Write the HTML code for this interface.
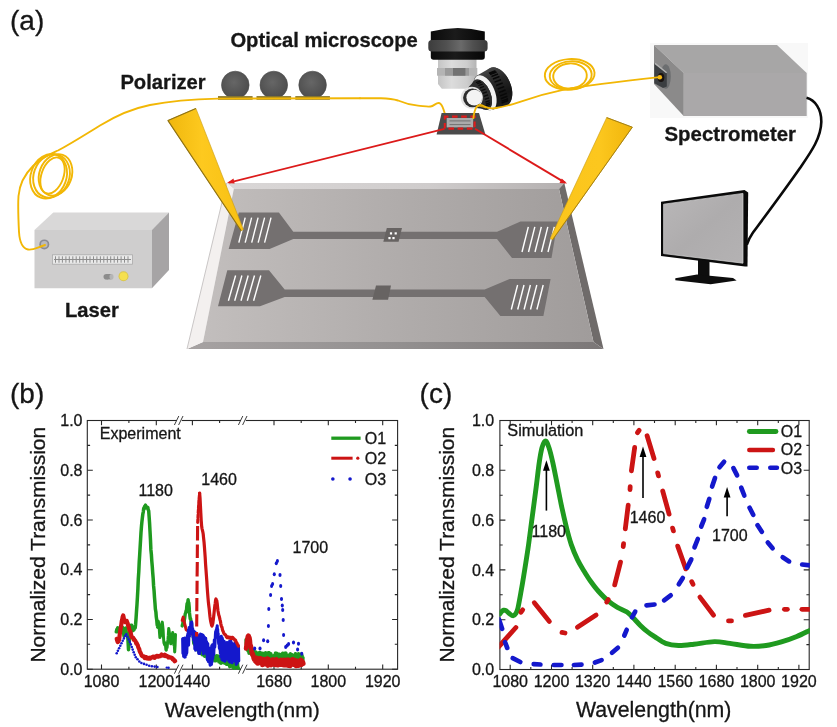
<!DOCTYPE html>
<html><head><meta charset="utf-8"><title>Figure</title>
<style>html,body{margin:0;padding:0;background:#fff}svg{display:block;will-change:transform}text{font-family:"Liberation Sans",sans-serif;fill:#161616;stroke:#161616;stroke-width:0.3px}</style>
</head><body>
<svg width="837" height="727" viewBox="0 0 837 727">
<defs>
<linearGradient id="gface" x1="0" y1="0" x2="1" y2="0"><stop offset="0" stop-color="#c2bebd"/><stop offset="0.5" stop-color="#b0acab"/><stop offset="1" stop-color="#a09c9b"/></linearGradient>
<linearGradient id="gbotb" x1="0" y1="0" x2="1" y2="0"><stop offset="0" stop-color="#a6a2a2"/><stop offset="0.5" stop-color="#939090"/><stop offset="1" stop-color="#7b7777"/></linearGradient>
<linearGradient id="gtopb" x1="0" y1="0" x2="1" y2="0"><stop offset="0" stop-color="#dad7d7"/><stop offset="0.6" stop-color="#cfcccc"/><stop offset="1" stop-color="#b4b0b0"/></linearGradient>
<linearGradient id="gtipL" x1="0" y1="0" x2="1" y2="0"><stop offset="0" stop-color="#f0b70d"/><stop offset="0.45" stop-color="#fdc91f"/><stop offset="1" stop-color="#f8c013"/></linearGradient>
<linearGradient id="gtipR" x1="0" y1="0" x2="1" y2="0"><stop offset="0" stop-color="#fbc51c"/><stop offset="0.6" stop-color="#fcc71e"/><stop offset="1" stop-color="#f0b50c"/></linearGradient>
<linearGradient id="gsilver" x1="0" y1="0" x2="1" y2="0"><stop offset="0" stop-color="#c4c4c4"/><stop offset="0.35" stop-color="#dcdcdc"/><stop offset="0.75" stop-color="#cdcdcd"/><stop offset="1" stop-color="#b4b4b4"/></linearGradient>
<linearGradient id="gblack" x1="0" y1="0" x2="1" y2="0"><stop offset="0" stop-color="#0a0a0a"/><stop offset="0.45" stop-color="#1b1b1b"/><stop offset="1" stop-color="#060606"/></linearGradient>
<linearGradient id="gring" x1="0" y1="0" x2="1" y2="0"><stop offset="0" stop-color="#3c3c3c"/><stop offset="0.3" stop-color="#505050"/><stop offset="0.55" stop-color="#6a6a6a"/><stop offset="0.75" stop-color="#505050"/><stop offset="1" stop-color="#3a3a3a"/></linearGradient>
<linearGradient id="gscreen" x1="0" y1="0" x2="1" y2="1"><stop offset="0" stop-color="#b9b7b8"/><stop offset="0.5" stop-color="#aeacad"/><stop offset="1" stop-color="#b4b2b3"/></linearGradient>
<linearGradient id="glens" x1="0" y1="0" x2="0" y2="1"><stop offset="0" stop-color="#454545"/><stop offset="0.3" stop-color="#2a2a2a"/><stop offset="0.7" stop-color="#141414"/><stop offset="1" stop-color="#1e1e1e"/></linearGradient>
<radialGradient id="gball" cx="0.45" cy="0.4" r="0.65"><stop offset="0" stop-color="#666"/><stop offset="1" stop-color="#4a4a4a"/></radialGradient>
</defs>
<rect width="837" height="727" fill="#fff"/>

<text x="10" y="30" font-size="28">(a)</text>
<text x="10" y="403" font-size="28">(b)</text>
<text x="419.6" y="403.3" font-size="28">(c)</text>
<g id="chip">
<polygon points="226.6,183.0 564.3,183.0 559.0,189.0 233.8,189.0" fill="url(#gtopb)" />
<polygon points="564.3,183.0 603.5,349.0 593.5,342.0 559.0,189.0" fill="#6f6b6a" />
<polygon points="187.0,349.0 603.5,349.0 593.5,342.0 203.0,342.0" fill="url(#gbotb)" />
<polygon points="226.6,183.0 233.8,189.0 203.0,342.0 187.0,349.0" fill="#f3f0ef" />
<polyline points="226.6,183.0 187.0,349.0" stroke="#c9c6c6" stroke-width="1" fill="none"/>
<polygon points="233.8,189.0 559.0,189.0 593.5,342.0 203.0,342.0" fill="url(#gface)" />
<polygon points="238.8,212.5 278.9,212.5 293.3,231.8 497.0,231.8 520.5,221.6 557.7,221.6 551.5,258.0 512.0,258.0 497.0,238.9 293.3,238.9 269.6,248.9 228.7,248.9" fill="#747070" />
<polygon points="386.8,228.0 402.0,228.0 398.6,241.8 383.3,241.8" fill="#676362" />
<polygon points="227.3,270.2 269.0,270.2 284.7,289.6 484.7,289.6 509.6,279.0 550.6,279.0 543.4,316.0 500.4,316.0 484.7,297.0 284.7,297.0 260.0,306.3 218.0,306.3" fill="#747070" />
<polygon points="376.0,285.6 391.0,285.6 388.1,299.7 372.4,299.7" fill="#676362" />
<rect x="389.9" y="232.3" width="2.2" height="2.2" fill="#fff"/>
<rect x="394.6" y="232.3" width="2.2" height="2.2" fill="#fff"/>
<rect x="388.4" y="237.0" width="2.2" height="2.2" fill="#fff"/>
<rect x="392.4" y="237.0" width="2.2" height="2.2" fill="#fff"/>
<line x1="245.2" y1="217.7" x2="238.8" y2="242.6" stroke="#fff" stroke-width="1.4"/>
<line x1="251.6" y1="217.7" x2="245.2" y2="242.6" stroke="#fff" stroke-width="1.4"/>
<line x1="258.1" y1="217.7" x2="251.7" y2="242.6" stroke="#fff" stroke-width="1.4"/>
<line x1="264.6" y1="217.7" x2="258.2" y2="242.6" stroke="#fff" stroke-width="1.4"/>
<line x1="271.0" y1="217.7" x2="264.6" y2="242.6" stroke="#fff" stroke-width="1.4"/>
<line x1="235.6" y1="275.5" x2="228.4" y2="300.8" stroke="#fff" stroke-width="1.4"/>
<line x1="241.9" y1="275.5" x2="234.7" y2="300.8" stroke="#fff" stroke-width="1.4"/>
<line x1="248.2" y1="275.5" x2="241.0" y2="300.8" stroke="#fff" stroke-width="1.4"/>
<line x1="254.5" y1="275.5" x2="247.3" y2="300.8" stroke="#fff" stroke-width="1.4"/>
<line x1="260.8" y1="275.5" x2="253.6" y2="300.8" stroke="#fff" stroke-width="1.4"/>
</g>
<line x1="528.3" y1="226.8" x2="522.0" y2="252.0" stroke="#fff" stroke-width="1.4"/>
<line x1="534.8" y1="226.8" x2="528.5" y2="252.0" stroke="#fff" stroke-width="1.4"/>
<line x1="541.3" y1="226.8" x2="535.0" y2="252.0" stroke="#fff" stroke-width="1.4"/>
<line x1="547.8" y1="226.8" x2="541.5" y2="252.0" stroke="#fff" stroke-width="1.4"/>
<line x1="554.3" y1="226.8" x2="548.0" y2="252.0" stroke="#fff" stroke-width="1.4"/>
<line x1="517.6" y1="285.0" x2="511.3" y2="309.5" stroke="#fff" stroke-width="1.4"/>
<line x1="524.0" y1="285.0" x2="517.7" y2="309.5" stroke="#fff" stroke-width="1.4"/>
<line x1="530.4" y1="285.0" x2="524.1" y2="309.5" stroke="#fff" stroke-width="1.4"/>
<line x1="536.8" y1="285.0" x2="530.5" y2="309.5" stroke="#fff" stroke-width="1.4"/>
<line x1="543.2" y1="285.0" x2="536.9" y2="309.5" stroke="#fff" stroke-width="1.4"/>
<polygon points="168,120.6 195.9,108.4 243.4,229.6 241.2,230.8" fill="url(#gtipL)" stroke="#c79a12" stroke-width="0.6" stroke-linejoin="round"/>
<polyline points="195.9,108.4 168,120.6 241.2,230.8" stroke="#8f7212" stroke-width="1.1" fill="none" stroke-linejoin="round"/>
<polygon points="606.7,117.6 632.3,127.2 552.6,239.7 550.2,238.5" fill="url(#gtipR)" stroke="#c79a12" stroke-width="0.6" stroke-linejoin="round"/>
<polyline points="606.7,117.6 632.3,127.2 552.6,239.7" stroke="#a8820f" stroke-width="1" fill="none" stroke-linejoin="round"/>
<polygon points="53.3,212.5 169.0,212.5 151.9,230.0 34.5,230.0" fill="#d9d8d8" />
<polygon points="34.5,230.0 151.9,230.0 151.9,288.3 34.5,288.3" fill="#cfcece" />
<polygon points="151.9,230.0 169.0,212.5 169.0,270.0 151.9,288.3" fill="#a6a4a5" />
<rect x="52.4" y="254.8" width="80" height="9.4" fill="#e9e9e9" stroke="#aaa" stroke-width="0.8"/>
<line x1="54" y1="259.5" x2="131" y2="259.5" stroke="#8d8d8d" stroke-width="1"/>
<path d="M55.5 256.3V262.7M59.0 256.3V262.7M62.4 256.3V262.7M65.9 256.3V262.7M69.3 256.3V262.7M72.8 256.3V262.7M76.2 256.3V262.7M79.7 256.3V262.7M83.1 256.3V262.7M86.6 256.3V262.7M90.0 256.3V262.7M93.5 256.3V262.7M96.9 256.3V262.7M100.4 256.3V262.7M103.8 256.3V262.7M107.3 256.3V262.7M110.7 256.3V262.7M114.2 256.3V262.7M117.6 256.3V262.7M121.1 256.3V262.7M124.5 256.3V262.7M128.0 256.3V262.7" stroke="#8d8d8d" stroke-width="1" fill="none"/>
<ellipse cx="106.5" cy="276.7" rx="3" ry="2.8" fill="#8c8c8c"/><rect x="106.5" y="274" width="5" height="5.4" fill="#8c8c8c"/><ellipse cx="111.5" cy="276.7" rx="2" ry="2.8" fill="#b5b5b5"/>
<circle cx="123.5" cy="276.2" r="5" fill="#d9c64e"/><circle cx="123.5" cy="276.2" r="4" fill="#f5e04f"/>
<circle cx="44.3" cy="244.4" r="5" fill="#8b8b93"/><circle cx="44.3" cy="244.4" r="3.3" fill="#b9b9bd"/>
<circle cx="235.3" cy="85" r="13.8" fill="url(#gball)" stroke="#4a4a4a" stroke-width="0.6"/>
<rect x="218.0" y="96.1" width="34.6" height="3.7" fill="#8a772c"/>
<circle cx="273.8" cy="85" r="13.8" fill="url(#gball)" stroke="#4a4a4a" stroke-width="0.6"/>
<rect x="256.5" y="96.1" width="34.6" height="3.7" fill="#8a772c"/>
<circle cx="312.6" cy="85" r="13.8" fill="url(#gball)" stroke="#4a4a4a" stroke-width="0.6"/>
<rect x="295.3" y="96.1" width="34.6" height="3.7" fill="#8a772c"/>
<g stroke="#f2b705" stroke-width="1.9" fill="none" stroke-linecap="round">
<path d="M45,245 C38,247 33,250.5 28,249.5 C21,248 19.5,240 19,232 C18.3,218 17.8,206 18.5,196 C19.5,184 25,174 33,166 C42,157 50,154 58,150.5 C72,143 86,134 100,125.5 C118,114.5 135,108 150,105 C170,101 190,99.2 218,98.6 L360,98.2"/>
<path d="M360,98.2 L381,98.2 C390,98.4 394,99.2 398,100.5 C405,103.5 411,105 418,105.6 C423,106 427,107 430.5,106.5 C434,106 436,102.6 439,103 C442,103.5 443,108 444,111 L446.5,119"/>
<ellipse cx="48.6" cy="176.3" rx="17.8" ry="22.8" transform="rotate(20 48.6 176.3)"/>
<ellipse cx="51.5" cy="175.9" rx="17.8" ry="22.2" transform="rotate(20 51.5 175.9)"/>
<ellipse cx="55.5" cy="174.9" rx="16.2" ry="21.2" transform="rotate(20 55.5 174.9)"/>
<ellipse cx="52.5" cy="175.5" rx="11.0" ry="18.8" transform="rotate(20 52.5 175.5)"/>
<ellipse cx="569.7" cy="74.4" rx="24.9" ry="15.3" transform="rotate(-4 569.7 74.4)"/>
<ellipse cx="570.7" cy="75.3" rx="21.0" ry="14.0" transform="rotate(-4 570.7 75.3)"/>
<ellipse cx="570.0" cy="76.0" rx="16.8" ry="12.6" transform="rotate(-4 570.0 76.0)"/>
</g>
<polygon points="441.6,113.0 479.0,113.0 485.4,134.4 436.6,134.4" fill="#4b4b4b" />
<rect x="446.7" y="118" width="26.5" height="9.4" fill="#ababab"/>
<line x1="449.5" y1="120.9" x2="470.5" y2="120.9" stroke="#6a6a6a" stroke-width="0.9"/><line x1="449.5" y1="124.6" x2="470.5" y2="124.6" stroke="#6a6a6a" stroke-width="0.9"/>
<rect x="444.8" y="116.6" width="29.8" height="12" fill="none" stroke="#e01b1b" stroke-width="2.1" stroke-dasharray="5.6 3.6" stroke-dashoffset="2"/>
<g stroke="#dc1a1a" stroke-width="1.9" fill="none"><line x1="444.5" y1="128.8" x2="229" y2="182.6"/><line x1="475" y1="128.8" x2="565" y2="182.6"/></g>
<polygon points="227,183 233.5,178.6 234.6,183.6" fill="#e01b1b"/>
<polygon points="567,183.5 559.5,183 561.8,178.4" fill="#e01b1b"/>
<path d="M438,59 H476.5 V84 L472.7,88.7 H441.8 L438,84 Z" fill="url(#gsilver)"/>
<rect x="437" y="68" width="40.3" height="7.7" fill="#b4b4b4"/>
<rect x="445" y="68" width="24" height="7.7" fill="#9a9a9a"/>
<rect x="453" y="68" width="12.4" height="7.7" fill="#727272"/>
<path d="M430.8,31.5 Q457.8,24.5 484.8,31.5 V57 Q484.8,59.7 482,59.7 H433.6 Q430.8,59.7 430.8,57 Z" fill="url(#gblack)"/>
<rect x="428.3" y="40.1" width="59.3" height="11.4" rx="3.5" fill="url(#gring)"/>
<g transform="translate(472,98) rotate(-23)">
<path d="M13,-18.6 L28.5,-20.6 A12.5,20.6 0 0 1 28.5,20.6 L13,18.6 Z" fill="url(#glens)"/>
<ellipse cx="28.5" cy="0" rx="12.5" ry="20.6" fill="url(#glens)"/>
<ellipse cx="14" cy="0" rx="9.5" ry="18.8" fill="url(#glens)"/>
<path d="M25.3,-16.2l7,0.3M25.8,-14.6l7,0.3M26.3,-12.2l7,0.3M26.7,-9.3l7,0.3M26.9,-5.8l7,0.3M27.1,-2.1l7,0.3M27.1,1.8l7,0.3M27.0,5.5l7,0.3M26.7,9.0l7,0.3M26.3,12.0l7,0.3M25.9,14.4l7,0.3M25.3,16.1l7,0.3" stroke="#080808" stroke-width="1.5" fill="none"/>
<ellipse cx="14.2" cy="0.3" rx="9.6" ry="18.6" fill="#f2f2f2"/>
<ellipse cx="10.3" cy="0.8" rx="8.8" ry="16.2" fill="#262626"/>
<path d="M0,-10.8 L10.3,-15.4 A8.8,16.2 0 0 1 10.3,17 L0,10.8 Z" fill="#2c2c2c"/>
<path d="M9.6,-12.6l4.5,0.3M10.3,-11.1l4.5,0.3M10.8,-9.0l4.5,0.3M11.2,-6.3l4.5,0.3M11.5,-3.2l4.5,0.3M11.6,0.0l4.5,0.3M11.5,3.2l4.5,0.3M11.2,6.3l4.5,0.3M10.8,9.0l4.5,0.3M10.3,11.1l4.5,0.3M9.6,12.6l4.5,0.3" stroke="#0a0a0a" stroke-width="1.3" fill="none"/>
</g>
<circle cx="471.8" cy="97.8" r="11" fill="#e4e4e4"/>
<circle cx="472.5" cy="97.8" r="9.4" fill="#2d2d2d"/>
<circle cx="474.3" cy="97.6" r="7.9" fill="#f3f3f3"/>
<polygon points="650.0,43.0 808.0,43.0 808.0,118.0 650.0,118.0" fill="#f8f8f8" />
<polygon points="654.0,45.0 777.0,45.0 806.7,73.0 683.7,73.0" fill="#a7a6a6" />
<polygon points="683.5,73.0 806.7,73.0 806.7,116.0 683.5,116.0" fill="#aaa8a9" />
<polygon points="654.0,45.0 683.7,73.0 683.7,116.0 654.0,84.0" fill="#8b8a8a" />
<ellipse cx="665.8" cy="76.5" rx="5" ry="12.2" fill="#6c6e70"/>
<polygon points="654.3,63.2 666.8,73.3 666.8,86.6 663.0,88.0 654.3,83.2" fill="#3b3e41" />
<line x1="655" y1="63.4" x2="666.6" y2="72.8" stroke="#b4b4b4" stroke-width="1.4"/>
<ellipse cx="661" cy="77.6" rx="3.3" ry="4.5" fill="#1a1312"/>
<path d="M473.3,119 C473.8,113.5 474.6,109.5 476.8,106.6 C478.8,104.2 481.5,104.6 484.5,106.4 C488,108.5 492,108.6 496,108 C503,107 512,104.5 520,101.8 C535,96.5 550,92.5 564,89.6 C590,85 625,81 659.6,77.2" stroke="#f2b705" stroke-width="1.8" fill="none"/>
<path d="M476.8,106.6 C479.5,105 482.5,107.2 486,107.8" stroke="#f2b705" stroke-width="1.2" fill="none" opacity="0.8"/>
<circle cx="659.8" cy="77.2" r="2.3" fill="#f5b811"/>
<path d="M806.5,97.8 C815,100 821.5,109 821.3,122 C821,138 811,152 800,168 C784,191 766,215 753,232.5 C750.5,236 748.3,240.5 746.8,244.8" stroke="#0a0a0a" stroke-width="2.6" fill="none"/>
<polygon points="661.0,201.8 744.5,190.0 748.2,192.6 747.5,266.6 745.0,266.6 661.0,256.0" fill="#0a0a0a" />
<polygon points="663.6,204.2 743.0,193.4 743.0,263.2 663.6,253.6" fill="url(#gscreen)" stroke="#d8d8d8" stroke-width="0.7"/>
<polygon points="698.0,259.5 709.5,261.0 709.5,277.0 698.0,277.0" fill="#0d0d0d" />
<polygon points="675.3,278.2 697.0,274.6 733.0,278.0 736.6,280.6 710.6,284.2 675.3,280.2" fill="#0d0d0d" />
<g font-weight="bold" font-size="20.2">
<text x="120.4" y="89.4">Polarizer</text>
<text x="230.4" y="47">Optical microscope</text>
<text x="65" y="317">Laser</text>
<text x="664.5" y="140.8" font-size="20.4">Spectrometer</text>
</g>
<g stroke="#262626" stroke-width="1.1" fill="none">
<rect x="87.3" y="420.5" width="310.3" height="248.7"/>
<path d="M87.3 669.2h5.5M397.6 669.2h-5.5M87.3 644.3h2.8M397.6 644.3h-2.8M87.3 619.5h5.5M397.6 619.5h-5.5M87.3 594.6h2.8M397.6 594.6h-2.8M87.3 569.7h5.5M397.6 569.7h-5.5M87.3 544.9h2.8M397.6 544.9h-2.8M87.3 520.0h5.5M397.6 520.0h-5.5M87.3 495.1h2.8M397.6 495.1h-2.8M87.3 470.2h5.5M397.6 470.2h-5.5M87.3 445.4h2.8M397.6 445.4h-2.8M87.3 420.5h5.5M397.6 420.5h-5.5M101.5 669.2v-4.7M101.5 420.5v4.7M128.9 669.2v-2.5M128.9 420.5v2.5M156.3 669.2v-4.7M156.3 420.5v4.7M192.4 669.2v-4.7M192.4 420.5v4.7M219.6 669.2v-2.5M219.6 420.5v2.5M274.0 669.2v-4.7M274.0 420.5v4.7M301.2 669.2v-2.5M301.2 420.5v2.5M328.3 669.2v-4.7M328.3 420.5v4.7M355.5 669.2v-2.5M355.5 420.5v2.5M382.7 669.2v-4.7M382.7 420.5v4.7"/>
</g>
<rect x="176.8" y="419.0" width="5" height="3" fill="#fff"/>
<path d="M174.4 425.0l4.4 -9M178.6 425.0l4.4 -9" stroke="#262626" stroke-width="0.9" fill="none"/>
<rect x="176.8" y="667.7" width="5" height="3" fill="#fff"/>
<path d="M174.4 673.7l4.4 -9M178.6 673.7l4.4 -9" stroke="#262626" stroke-width="0.9" fill="none"/>
<rect x="240.8" y="419.0" width="5" height="3" fill="#fff"/>
<path d="M238.4 425.0l4.4 -9M242.6 425.0l4.4 -9" stroke="#262626" stroke-width="0.9" fill="none"/>
<rect x="240.8" y="667.7" width="5" height="3" fill="#fff"/>
<path d="M238.4 673.7l4.4 -9M242.6 673.7l4.4 -9" stroke="#262626" stroke-width="0.9" fill="none"/>
<g font-size="16">
<text x="82.5" y="674.9" text-anchor="end">0.0</text>
<text x="82.5" y="625.2" text-anchor="end">0.2</text>
<text x="82.5" y="575.4" text-anchor="end">0.4</text>
<text x="82.5" y="525.7" text-anchor="end">0.6</text>
<text x="82.5" y="475.9" text-anchor="end">0.8</text>
<text x="82.5" y="426.2" text-anchor="end">1.0</text>
<text x="101.5" y="687.3" text-anchor="middle">1080</text>
<text x="156.3" y="687.3" text-anchor="middle">1200</text>
<text x="192.4" y="687.3" text-anchor="middle">1440</text>
<text x="274.0" y="687.3" text-anchor="middle">1680</text>
<text x="328.3" y="687.3" text-anchor="middle">1800</text>
<text x="382.7" y="687.3" text-anchor="middle">1920</text>
<text x="99.8" y="439">Experiment</text>
<text x="138.5" y="496">1180</text><text x="201.3" y="485">1460</text><text x="292.5" y="553">1700</text>
<text x="364.7" y="443.8">O1</text><text x="364.7" y="464">O2</text><text x="364.7" y="484.6">O3</text>
</g>
<text x="242.3" y="717.1" font-size="21" text-anchor="middle">Wavelength<tspan dx="1.6">(nm)</tspan></text>
<text transform="translate(45.2,544.7) rotate(-90)" font-size="21" text-anchor="middle">Normalized Transmission</text>
<line x1="331.3" y1="438.2" x2="360.6" y2="438.2" stroke="#1f9a1f" stroke-width="3.3"/>
<path d="M331.3 458.2H352.6" stroke="#cc1414" stroke-width="3" fill="none"/><circle cx="357.8" cy="458.2" r="1.6" fill="#cc1414"/>
<path d="M332.8 479h0.1M350 479h0.1" stroke="#1418cc" stroke-width="3.5" stroke-linecap="round"/>
<path d="M116.3 631.8 L116.8 629.6 L117.2 631.8 L117.7 627.8 L118.1 629.7 L118.6 630.1 L119.0 628.8 L119.5 632.1 L119.9 630.5 L120.4 631.7 L120.8 628.4 L121.3 626.7 L121.7 627.5 L122.2 630.2 L122.6 627.4 L123.1 628.2 L123.5 632.0 L124.0 636.0 L124.4 633.7 L124.9 631.4 L125.3 634.2 L125.8 628.1 L126.2 633.0 L126.7 632.7 L127.1 633.5 L127.6 635.4 L128.0 640.4 L128.5 649.7 L128.9 644.0 L129.4 639.6 L129.8 635.8 L130.2 631.7 L130.7 629.9 L131.1 625.3 L131.6 625.2 L132.0 626.7 L132.5 630.7 L132.9 630.6 L133.4 629.1 L133.8 630.0 L134.3 628.8 L134.7 627.0 L135.2 627.9 L135.6 624.2 L136.1 617.7 L136.5 611.4 L137.0 604.3 L137.4 597.7 L137.9 588.6 L138.3 578.8 L138.8 571.4 L139.2 562.3 L139.7 554.5 L140.1 547.6 L140.6 539.4 L141.0 532.3 L141.5 526.0 L141.9 521.9 L142.4 517.5 L142.8 514.2 L143.3 511.8 L143.7 508.5 L144.2 507.7 L144.6 506.5 L145.1 505.8 L145.5 505.2 L146.0 506.8 L146.4 508.0 L146.9 507.4 L147.3 508.2 L147.8 507.4 L148.2 509.7 L148.7 510.9 L149.1 516.3 L149.6 523.7 L150.0 531.0 L150.5 540.4 L150.9 549.9 L151.4 554.8 L151.8 561.2 L152.3 566.8 L152.7 572.7 L153.2 578.6 L153.6 585.9 L154.1 591.2 L154.5 597.3 L155.0 603.7 L155.4 609.3 L155.9 612.0 L156.3 617.1 L156.8 620.6 L157.2 625.1" stroke="#1f9a1f" stroke-width="3.5" fill="none" stroke-linejoin="round" stroke-linecap="round" />
<path d="M157.5 627.3 L157.9 626.7 L158.3 621.3 L158.7 622.9 L159.1 625.7 L159.5 632.7 L159.9 637.6 L160.3 635.8 L160.7 635.7 L161.1 632.6 L161.5 628.0 L161.9 624.0 L162.3 622.1 L162.7 625.9 L163.1 629.6 L163.5 637.5 L163.9 642.7 L164.3 643.9 L164.7 644.8 L165.1 642.7 L165.5 645.3 L165.9 649.9 L166.3 650.2 L166.7 644.1 L167.1 647.6 L167.5 643.3 L167.9 639.9 L168.3 635.4 L168.7 628.5 L169.1 630.8 L169.5 633.5 L169.9 641.5 L170.3 640.9 L170.7 643.8 L171.1 643.2 L171.5 639.7 L171.9 638.2 L172.3 634.6 L172.7 632.5 L173.1 636.1 L173.5 639.8 L173.9 645.1 L174.3 644.5 L174.7 651.9 L175.1 645.4 L175.5 634.5" stroke="#1f9a1f" stroke-width="3.0" fill="none" stroke-linejoin="round" stroke-linecap="round" />
<path d="M182.2 625.9 L182.5 624.8 L182.9 623.5 L183.2 620.2 L183.6 623.8 L183.9 624.5 L184.3 620.2 L184.6 618.9 L185.0 615.5 L185.3 613.5 L185.7 613.0 L186.0 611.0 L186.4 612.0 L186.7 606.9 L187.1 603.5 L187.4 605.9 L187.8 602.2 L188.1 599.6 L188.5 603.2 L188.8 602.7 L189.2 606.8 L189.5 612.9 L189.9 616.2 L190.2 618.9 L190.6 618.6 L190.9 620.9 L191.3 621.7 L191.6 627.4 L192.0 628.4 L192.3 632.1 L192.7 631.2 L193.0 632.0 L193.4 638.5 L193.7 642.8 L194.1 643.8 L194.4 643.9 L194.8 644.6 L195.1 644.5 L195.5 640.7 L195.8 643.1 L196.2 642.6 L196.5 640.3 L196.9 640.5 L197.2 643.2 L197.6 643.9 L197.9 648.2 L198.3 651.3 L198.6 647.8 L199.0 651.7 L199.3 652.9 L199.7 653.2 L200.0 648.6 L200.4 647.0 L200.7 647.1 L201.1 647.2 L201.4 647.6 L201.8 651.4 L202.1 654.5 L202.5 654.8 L202.8 652.2 L203.2 653.4 L203.5 654.9 L203.9 649.5 L204.2 653.5 L204.6 656.2 L204.9 655.8 L205.3 655.6 L205.6 653.5 L206.0 650.9 L206.3 655.6 L206.7 652.8 L207.0 656.3 L207.4 658.3 L207.7 654.2 L208.1 653.7 L208.4 658.1 L208.8 657.1 L209.1 652.7 L209.5 651.8 L209.8 652.0 L210.2 658.1 L210.5 658.4 L210.9 653.4 L211.2 658.1 L211.6 660.1 L211.9 658.0 L212.3 655.4 L212.6 656.7 L213.0 653.7 L213.3 652.5 L213.7 659.9 L214.0 658.6 L214.4 657.6 L214.7 660.7 L215.1 657.5 L215.4 660.5 L215.8 660.7 L216.1 656.2 L216.5 655.9 L216.8 656.3 L217.2 656.1 L217.5 658.9 L217.9 656.9 L218.2 658.0 L218.6 656.1 L218.9 661.8 L219.3 658.6 L219.6 659.1 L220.0 660.2 L220.3 662.9 L220.7 659.8 L221.0 663.2 L221.4 660.7 L221.7 660.7 L222.1 660.8 L222.4 657.1 L222.8 659.8 L223.1 658.4 L223.5 657.0 L223.8 662.8 L224.2 659.2 L224.5 660.9 L224.9 663.2 L225.2 662.4 L225.6 660.7 L225.9 661.9 L226.3 662.5 L226.6 664.4 L227.0 659.8 L227.3 662.6 L227.7 660.8 L228.0 660.9 L228.4 664.6 L228.7 663.3 L229.1 663.7 L229.4 665.2 L229.8 666.7 L230.1 663.6 L230.5 664.5 L230.8 663.9 L231.2 664.0 L231.5 665.3 L231.9 663.9 L232.2 664.4 L232.6 664.1 L232.9 667.4 L233.3 666.3 L233.6 667.4 L234.0 668.2 L234.3 663.6 L234.7 665.1 L235.0 668.0 L235.4 667.9 L235.7 663.0 L236.1 662.3 L236.4 664.5 L236.8 662.4 L237.1 663.3 L237.5 662.4 L237.8 666.4 L238.2 667.9 L238.5 668.3" stroke="#1f9a1f" stroke-width="3.4" fill="none" stroke-linejoin="round" stroke-linecap="round" />
<path d="M246.0 639.8 L246.3 644.4 L246.6 645.6 L246.9 643.4 L247.2 648.7 L247.5 650.3 L247.8 646.1 L248.1 651.0 L248.4 648.4 L248.7 649.3 L249.0 653.2 L249.3 652.8 L249.6 648.6 L249.9 650.3 L250.2 651.2 L250.5 650.4 L250.8 649.7 L251.1 650.7 L251.4 653.7 L251.7 649.7 L252.0 653.1 L252.3 652.8 L252.6 650.2 L252.9 652.1 L253.2 654.4 L253.5 654.1 L253.8 651.3 L254.1 657.2 L254.4 656.7 L254.7 658.0 L255.0 652.6 L255.3 653.3 L255.6 652.0 L255.9 657.0 L256.2 654.1 L256.5 652.9 L256.8 654.8 L257.1 658.2 L257.4 658.0 L257.7 654.2 L258.0 653.1 L258.3 658.2 L258.6 656.4 L258.9 657.1 L259.2 653.0 L259.5 652.4 L259.8 656.6 L260.1 655.3 L260.4 652.8 L260.7 658.4 L261.0 656.9 L261.3 657.9 L261.6 653.2 L261.9 658.0 L262.2 653.1 L262.5 658.0 L262.8 655.8 L263.1 654.8 L263.4 656.1 L263.7 658.8 L264.0 654.6 L264.3 653.3 L264.6 655.9 L264.9 654.2 L265.2 653.1 L265.5 653.4 L265.8 652.7 L266.1 653.7 L266.4 654.5 L266.7 654.6 L267.0 657.7 L267.3 654.8 L267.6 656.0 L267.9 653.9 L268.2 654.9 L268.5 652.7 L268.8 654.1 L269.1 652.6 L269.4 657.5 L269.7 656.7 L270.0 654.1 L270.3 655.9 L270.6 659.2 L270.9 653.8 L271.2 658.3 L271.5 656.0 L271.8 656.3 L272.1 658.7 L272.4 655.8 L272.7 656.4 L273.0 657.7 L273.3 659.9 L273.6 655.7 L273.9 658.7 L274.2 658.1 L274.5 657.6 L274.8 655.9 L275.1 655.4 L275.4 653.3 L275.7 653.6 L276.0 653.2 L276.3 657.9 L276.6 655.0 L276.9 654.0 L277.2 653.4 L277.5 658.7 L277.8 659.4 L278.1 658.1 L278.4 655.2 L278.7 654.7 L279.0 655.0 L279.3 656.2 L279.6 654.2 L279.9 656.0 L280.2 654.9 L280.5 659.8 L280.8 660.4 L281.1 657.4 L281.4 655.0 L281.7 659.9 L282.0 655.7 L282.3 655.6 L282.6 653.1 L282.9 655.6 L283.2 656.5 L283.5 656.8 L283.8 654.7 L284.1 656.6 L284.4 653.2 L284.7 654.8 L285.0 653.7 L285.3 655.8 L285.6 653.5 L285.9 653.1 L286.2 655.1 L286.5 654.8 L286.8 657.3 L287.1 657.2 L287.4 658.8 L287.7 658.3 L288.0 658.7 L288.3 659.9 L288.6 656.5 L288.9 655.7 L289.2 660.4 L289.5 654.8 L289.8 658.4 L290.1 658.2 L290.4 653.8 L290.7 659.2 L291.0 660.2 L291.3 658.3 L291.6 658.9 L291.9 659.6 L292.2 654.7 L292.5 657.1 L292.8 657.2 L293.1 659.6 L293.4 659.6 L293.7 659.8 L294.0 658.1 L294.3 660.2 L294.6 658.8 L294.9 658.8 L295.2 655.4 L295.5 653.6 L295.8 654.1 L296.1 655.9 L296.4 654.2 L296.7 659.5 L297.0 657.9 L297.3 658.3 L297.6 658.3 L297.9 658.8 L298.2 657.4 L298.5 653.6 L298.8 659.2 L299.1 659.4 L299.4 657.6 L299.7 657.7 L300.0 658.6 L300.3 654.3 L300.6 658.9 L300.9 655.7 L301.2 654.1 L301.5 655.3 L301.8 659.0 L302.1 655.4 L302.4 659.1 L302.7 661.2 L303.0 657.8" stroke="#1f9a1f" stroke-width="3.4" fill="none" stroke-linejoin="round" stroke-linecap="round" />
<path d="M116.7 638.8 L117.2 640.6 L117.7 642.1 L118.2 641.7 L118.7 640.8 L119.2 639.0 L119.7 634.7 L120.2 631.2 L120.7 628.0 L121.2 625.4 L121.7 621.4 L122.2 619.5 L122.7 616.7 L123.2 615.4 L123.7 617.8 L124.2 620.6 L124.7 621.5 L125.2 622.1 L125.7 621.4 L126.2 621.0 L126.7 620.8 L127.2 622.4 L127.7 623.4 L128.2 626.0 L128.7 626.7 L129.2 629.3 L129.7 631.0 L130.2 631.1 L130.7 632.9 L131.2 635.1 L131.7 637.1 L132.2 637.4 L132.7 637.5 L133.2 637.8 L133.7 639.6 L134.2 639.3 L134.7 640.4 L135.2 640.5 L135.7 641.7 L136.2 643.3 L136.7 643.1 L137.2 644.6 L137.7 645.1 L138.2 647.0 L138.7 648.3 L139.2 648.9 L139.7 651.2 L140.2 652.3 L140.7 653.0 L141.2 654.2 L141.7 655.5 L142.2 656.0 L142.7 656.2 L143.2 656.2 L143.7 656.8 L144.2 657.1 L144.7 658.0 L145.2 657.0 L145.7 657.8 L146.2 658.3 L146.7 657.3 L147.2 658.3 L147.7 658.3 L148.2 658.6 L148.7 657.8 L149.2 657.8 L149.7 657.7 L150.2 658.6 L150.7 658.1 L151.2 657.6 L151.7 657.5 L152.2 657.2 L152.7 656.7 L153.2 656.6 L153.7 657.6 L154.2 657.0 L154.7 657.7 L155.2 656.7 L155.7 656.3 L156.2 656.5 L156.7 655.9 L157.2 655.9 L157.7 656.7 L158.2 656.7 L158.7 656.5 L159.2 656.0 L159.7 656.2 L160.2 656.2 L160.7 655.5 L161.2 655.4 L161.7 654.5 L162.2 655.3 L162.7 655.2 L163.2 655.6 L163.7 655.7 L164.2 655.2 L164.7 654.7 L165.2 656.0 L165.7 655.3 L166.2 655.8 L166.7 655.9 L167.2 656.0 L167.7 656.7 L168.2 657.5 L168.7 656.8 L169.2 657.3 L169.7 657.1 L170.2 657.6 L170.7 657.7 L171.2 657.6 L171.7 657.7 L172.2 658.0 L172.7 659.4 L173.2 659.5 L173.7 659.4 L174.2 660.6 L174.7 661.3 L175.2 661.0" stroke="#cc1414" stroke-width="4.2" fill="none" stroke-linejoin="round" stroke-linecap="round" />
<path d="M182.2 620.4 L182.7 618.8 L183.2 617.1 L183.7 619.8 L184.2 621.8 L184.7 624.0 L185.2 625.7 L185.7 627.9 L186.2 629.8 L186.7 630.3 L187.2 630.2 L187.7 630.6 L188.2 631.1 L188.7 631.3 L189.2 631.5 L189.7 631.3 L190.2 631.8 L190.7 633.4 L191.2 632.7 L191.7 633.3 L192.2 634.0 L192.7 634.8 L193.2 634.2 L193.7 634.3 L194.2 634.5 L194.7 635.0 L195.2 635.3 L195.7 636.4 L196.2 636.8" stroke="#cc1414" stroke-width="3.0" fill="none" stroke-linejoin="round" stroke-linecap="round" />
<path d="M182.6 638.7 L182.9 653.4 L183.1 638.6 L183.4 641.6 L183.6 656.6 L183.9 639.5 L184.2 638.3 L184.4 646.1 L184.7 657.2 L184.9 637.9 L185.2 657.1 L185.5 641.2 L185.7 650.8 L186.0 642.2 L186.2 654.8 L186.5 642.1 L186.8 653.0 L187.0 647.6 L187.3 636.1 L187.5 636.4 L187.8 634.0 L188.1 644.2 L188.3 630.2 L188.6 645.2 L188.8 639.6 L189.1 627.5 L189.4 630.1 L189.6 636.2 L189.9 627.2 L190.1 633.8 L190.4 631.0 L190.7 624.7 L190.9 622.5 L191.2 631.4 L191.4 630.4 L191.7 622.0 L192.0 623.8 L192.2 632.7 L192.5 628.6 L192.7 628.9 L193.0 637.2 L193.3 630.4 L193.5 640.0 L193.8 635.5 L194.0 637.0 L194.3 643.0 L194.6 632.2 L194.8 648.9 L195.1 631.9 L195.3 645.7 L195.6 650.3 L195.9 635.0 L196.1 648.2 L196.4 647.0 L196.6 638.9 L196.9 634.1 L197.2 634.2 L197.4 649.2 L197.7 635.2 L197.9 646.9 L198.2 638.6 L198.5 648.0 L198.7 653.4 L199.0 638.3 L199.2 635.6 L199.5 641.2 L199.8 653.6 L200.0 635.7 L200.3 649.2 L200.5 634.1 L200.8 648.6 L201.1 639.0 L201.3 646.8 L201.6 634.6 L201.8 634.5 L202.1 648.9 L202.4 634.7 L202.6 650.4 L202.9 639.0 L203.1 635.3 L203.4 654.0 L203.7 636.3 L203.9 652.8 L204.2 640.5 L204.4 637.0 L204.7 650.0 L205.0 650.5 L205.2 643.6 L205.5 652.3 L205.7 638.2 L206.0 643.6 L206.3 652.3 L206.5 641.4 L206.8 654.6 L207.0 643.3 L207.3 659.8 L207.6 659.7 L207.8 643.5 L208.1 660.0 L208.3 661.6 L208.6 658.1 L208.9 650.1 L209.1 661.1 L209.4 648.8 L209.6 648.2 L209.9 663.6 L210.2 665.2 L210.4 649.3 L210.7 664.5 L210.9 653.1 L211.2 652.3 L211.5 664.5 L211.7 645.7 L212.0 662.3 L212.2 649.6 L212.5 644.7 L212.8 658.4 L213.0 648.6 L213.3 648.6 L213.5 654.2 L213.8 654.5 L214.1 645.2 L214.3 639.9 L214.6 640.1 L214.8 647.2 L215.1 641.7 L215.4 634.4 L215.6 631.7 L215.9 637.5 L216.1 630.2 L216.4 635.6 L216.7 628.1 L216.9 633.5 L217.2 625.7 L217.4 629.5 L217.7 629.1 L218.0 637.4 L218.2 633.4 L218.5 642.0 L218.7 643.9 L219.0 639.0 L219.3 648.3 L219.5 640.8 L219.8 649.8 L220.0 642.5 L220.3 653.1 L220.6 643.1 L220.8 657.0 L221.1 652.2 L221.3 636.3 L221.6 640.8 L221.9 659.8 L222.1 637.7 L222.4 638.8 L222.6 639.5 L222.9 656.4 L223.2 660.4 L223.4 645.3 L223.7 657.9 L223.9 654.5 L224.2 641.2 L224.5 654.0 L224.7 660.5 L225.0 661.3 L225.2 642.9 L225.5 659.7 L225.8 644.7 L226.0 658.2 L226.3 644.8 L226.5 654.9 L226.8 659.1 L227.1 642.4 L227.3 645.1 L227.6 645.0 L227.8 656.0 L228.1 648.3 L228.4 644.7 L228.6 643.6 L228.9 661.2 L229.1 659.3 L229.4 644.8 L229.7 640.9 L229.9 662.3 L230.2 642.8 L230.4 656.5 L230.7 644.9 L231.0 641.3 L231.2 661.7 L231.5 648.7 L231.7 642.9 L232.0 662.8 L232.3 662.1 L232.5 645.3 L232.8 657.1 L233.0 645.4 L233.3 649.4 L233.6 656.8 L233.8 644.1 L234.1 657.0 L234.3 649.0 L234.6 661.1 L234.9 642.8 L235.1 660.7 L235.4 649.4 L235.6 661.2 L235.9 643.8 L236.2 664.4 L236.4 647.6 L236.7 647.0 L236.9 644.5 L237.2 663.2 L237.5 645.5 L237.7 661.3 L238.0 659.1 L238.2 656.9 L238.5 646.0 L238.8 660.9" stroke="#1418cc" stroke-width="3.0" fill="none" stroke-linejoin="round" stroke-linecap="round" />
<path d="M196.6 636.5L196.6 632.0M196.7 626.5L196.8 614.2M196.8 611.3L196.9 598.1M197.0 594.0L197.1 580.7M197.1 576.6L197.3 562.0M197.3 557.9L197.4 544.4M197.5 540.4L197.6 526.0" stroke="#cc1414" stroke-width="3.1" fill="none"/>
<path d="M197.7 522.5 L198.3 511 L199 499.5 L199.6 493.5" stroke="#cc1414" stroke-width="3.1" fill="none" stroke-dasharray="3.2 1.6" stroke-linecap="round"/>
<path d="M199.6 493.0 L200.0 497.4 L200.4 505.1 L200.8 512.8 L201.2 520.3 L201.6 525.6 L202.0 528.5 L202.4 530.2 L202.8 531.8 L203.2 534.0 L203.6 538.1 L204.0 541.7 L204.4 546.5 L204.8 552.0 L205.2 557.5 L205.6 564.6 L206.0 569.8 L206.4 575.3 L206.8 580.9 L207.2 587.4 L207.6 592.9 L208.0 597.9 L208.4 602.3 L208.8 605.8 L209.2 608.9 L209.6 613.2 L210.0 616.8 L210.4 619.7 L210.8 621.9 L211.2 623.5 L211.6 625.3 L212.0 626.1 L212.4 624.8 L212.8 623.5 L213.2 620.5 L213.6 617.2 L214.0 613.5 L214.4 609.6 L214.8 605.8 L215.2 603.4 L215.6 600.0 L216.0 598.9 L216.4 600.3 L216.8 600.8 L217.2 603.5 L217.6 607.5 L218.0 611.0 L218.4 613.0 L218.8 615.2 L219.2 616.1 L219.6 617.9 L220.0 619.7 L220.4 620.9 L220.8 623.6 L221.2 625.4 L221.6 626.8 L222.0 627.2 L222.4 629.6 L222.8 630.8 L223.2 631.4 L223.6 632.8 L224.0 633.5 L224.4 634.1 L224.8 634.2 L225.2 634.7 L225.6 634.9 L226.0 635.7 L226.4 636.9 L226.8 637.3 L227.2 637.6 L227.6 637.6 L228.0 636.9 L228.4 637.3 L228.8 637.2 L229.2 637.9 L229.6 637.7 L230.0 637.3 L230.4 637.8 L230.8 638.5 L231.2 637.6 L231.6 638.4 L232.0 637.3 L232.4 637.4 L232.8 637.5 L233.2 638.4 L233.6 639.0 L234.0 639.3 L234.4 639.1 L234.8 640.3 L235.2 640.0 L235.6 640.2 L236.0 641.8 L236.4 642.3 L236.8 643.0 L237.2 643.6 L237.6 644.9 L238.0 645.0 L238.4 646.2" stroke="#cc1414" stroke-width="3.2" fill="none" stroke-linejoin="round" stroke-linecap="round" />
<path d="M246.2 648.4 L246.5 646.4 L246.8 643.1 L247.1 641.3 L247.4 639.4 L247.7 637.6 L248.0 636.1 L248.3 636.4 L248.6 635.8 L248.9 638.3 L249.2 637.2 L249.5 638.6 L249.8 640.6 L250.1 644.5 L250.4 645.1 L250.7 646.0 L251.0 647.1 L251.3 648.5 L251.6 651.5 L251.9 652.9 L252.2 654.0 L252.5 654.9 L252.8 653.9 L253.1 655.9 L253.4 656.1 L253.7 658.1 L254.0 658.9 L254.3 659.6 L254.6 657.3 L254.9 660.1 L255.2 660.9 L255.5 661.5 L255.8 658.3 L256.1 658.6 L256.4 658.3 L256.7 658.0 L257.0 662.7 L257.3 663.0 L257.6 662.1 L257.9 663.4 L258.2 662.3 L258.5 660.0 L258.8 658.6 L259.1 658.5 L259.4 662.9 L259.7 659.8 L260.0 660.2 L260.3 661.0 L260.6 658.5 L260.9 659.9 L261.2 660.2 L261.5 663.1 L261.8 661.2 L262.1 660.8 L262.4 664.9 L262.7 662.3 L263.0 664.4 L263.3 663.0 L263.6 659.1 L263.9 661.2 L264.2 661.6 L264.5 663.8 L264.8 661.2 L265.1 663.4 L265.4 662.5 L265.7 660.3 L266.0 664.3 L266.3 659.6 L266.6 664.0 L266.9 660.1 L267.2 658.6 L267.5 659.8 L267.8 663.7 L268.1 665.5 L268.4 659.2 L268.7 661.8 L269.0 662.1 L269.3 664.2 L269.6 660.3 L269.9 662.0 L270.2 661.2 L270.5 664.3 L270.8 660.9 L271.1 665.1 L271.4 661.1 L271.7 660.2 L272.0 663.4 L272.3 662.4 L272.6 659.7 L272.9 663.0 L273.2 659.6 L273.5 664.0 L273.8 663.8 L274.1 664.4 L274.4 663.4 L274.7 661.5 L275.0 661.6 L275.3 661.6 L275.6 664.9 L275.9 659.8 L276.2 664.8 L276.5 659.4 L276.8 660.1 L277.1 660.6 L277.4 665.0 L277.7 662.7 L278.0 661.7 L278.3 665.0 L278.6 660.9 L278.9 662.0 L279.2 662.7 L279.5 664.2 L279.8 664.4 L280.1 663.7 L280.4 661.6 L280.7 661.2 L281.0 660.0 L281.3 664.6 L281.6 663.8 L281.9 664.3 L282.2 660.4 L282.5 661.9 L282.8 664.4 L283.1 663.3 L283.4 660.0 L283.7 662.0 L284.0 665.2 L284.3 661.0 L284.6 660.3 L284.9 661.0 L285.2 663.8 L285.5 665.1 L285.8 660.4 L286.1 660.0 L286.4 660.6 L286.7 661.2 L287.0 662.6 L287.3 660.2 L287.6 661.2 L287.9 660.3 L288.2 665.7 L288.5 664.5 L288.8 660.0 L289.1 665.6 L289.4 660.1 L289.7 661.6 L290.0 665.9 L290.3 665.0 L290.6 664.5 L290.9 662.4 L291.2 660.5 L291.5 663.4 L291.8 660.0 L292.1 660.3 L292.4 661.6 L292.7 659.3 L293.0 661.6 L293.3 664.6 L293.6 664.2 L293.9 662.8 L294.2 663.6 L294.5 662.5 L294.8 660.1 L295.1 663.2 L295.4 662.1 L295.7 664.3 L296.0 665.8 L296.3 662.5 L296.6 663.2 L296.9 664.5 L297.2 662.3 L297.5 660.8 L297.8 664.1 L298.1 665.6 L298.4 665.0 L298.7 664.4 L299.0 665.4 L299.3 664.3 L299.6 663.9 L299.9 662.5 L300.2 661.4 L300.5 663.5 L300.8 660.0 L301.1 661.9 L301.4 664.7 L301.7 664.5 L302.0 663.9 L302.3 661.1 L302.6 662.1 L302.9 662.4 L303.2 663.6" stroke="#cc1414" stroke-width="4.8" fill="none" stroke-linejoin="round" stroke-linecap="round" />
<circle cx="116.7" cy="653.2" r="1.30" fill="#1418cc"/>
<circle cx="117.9" cy="650.7" r="1.30" fill="#1418cc"/>
<circle cx="119.1" cy="648.3" r="1.30" fill="#1418cc"/>
<circle cx="120.3" cy="645.8" r="1.30" fill="#1418cc"/>
<circle cx="121.5" cy="643.3" r="1.30" fill="#1418cc"/>
<circle cx="122.7" cy="640.8" r="1.30" fill="#1418cc"/>
<circle cx="123.9" cy="638.4" r="1.30" fill="#1418cc"/>
<circle cx="125.1" cy="635.9" r="1.30" fill="#1418cc"/>
<circle cx="126.3" cy="634.4" r="1.30" fill="#1418cc"/>
<circle cx="127.5" cy="636.9" r="1.30" fill="#1418cc"/>
<circle cx="128.6" cy="639.4" r="1.30" fill="#1418cc"/>
<circle cx="129.8" cy="641.9" r="1.30" fill="#1418cc"/>
<circle cx="130.8" cy="644.4" r="1.30" fill="#1418cc"/>
<circle cx="131.8" cy="647.0" r="1.30" fill="#1418cc"/>
<circle cx="132.7" cy="649.6" r="1.30" fill="#1418cc"/>
<circle cx="133.7" cy="652.2" r="1.30" fill="#1418cc"/>
<circle cx="134.7" cy="654.7" r="1.30" fill="#1418cc"/>
<circle cx="135.8" cy="657.2" r="1.30" fill="#1418cc"/>
<circle cx="137.5" cy="659.3" r="1.30" fill="#1418cc"/>
<circle cx="139.3" cy="661.5" r="1.30" fill="#1418cc"/>
<circle cx="141.4" cy="663.0" r="1.30" fill="#1418cc"/>
<circle cx="144.0" cy="663.9" r="1.30" fill="#1418cc"/>
<circle cx="146.6" cy="664.8" r="1.30" fill="#1418cc"/>
<circle cx="149.2" cy="665.7" r="1.30" fill="#1418cc"/>
<circle cx="151.9" cy="666.2" r="1.30" fill="#1418cc"/>
<circle cx="154.7" cy="666.6" r="1.30" fill="#1418cc"/>
<circle cx="157.4" cy="667.0" r="1.30" fill="#1418cc"/>
<circle cx="166.8" cy="667.6" r="1.20" fill="#1418cc"/>
<circle cx="168.6" cy="667.8" r="1.20" fill="#1418cc"/>
<ellipse cx="277.4" cy="561.0" rx="1.55" ry="2.0" fill="#1418cc"/>
<ellipse cx="276.3" cy="563.2" rx="1.55" ry="2.0" fill="#1418cc"/>
<ellipse cx="274.3" cy="574.3" rx="1.55" ry="2.0" fill="#1418cc"/>
<ellipse cx="272.6" cy="584.0" rx="1.55" ry="2.0" fill="#1418cc"/>
<ellipse cx="271.6" cy="586.0" rx="1.55" ry="2.0" fill="#1418cc"/>
<ellipse cx="270.6" cy="595.0" rx="1.55" ry="2.0" fill="#1418cc"/>
<ellipse cx="268.8" cy="609.0" rx="1.55" ry="2.0" fill="#1418cc"/>
<ellipse cx="268.4" cy="625.9" rx="1.55" ry="2.0" fill="#1418cc"/>
<ellipse cx="267.7" cy="641.3" rx="1.55" ry="2.0" fill="#1418cc"/>
<ellipse cx="263.6" cy="640.3" rx="1.55" ry="2.0" fill="#1418cc"/>
<ellipse cx="260.0" cy="648.6" rx="1.55" ry="2.0" fill="#1418cc"/>
<ellipse cx="254.7" cy="648.6" rx="1.55" ry="2.0" fill="#1418cc"/>
<ellipse cx="280.0" cy="575.0" rx="1.55" ry="2.0" fill="#1418cc"/>
<ellipse cx="280.7" cy="586.0" rx="1.55" ry="2.0" fill="#1418cc"/>
<ellipse cx="281.5" cy="599.0" rx="1.55" ry="2.0" fill="#1418cc"/>
<ellipse cx="282.3" cy="605.5" rx="1.55" ry="2.0" fill="#1418cc"/>
<ellipse cx="282.7" cy="610.0" rx="1.55" ry="2.0" fill="#1418cc"/>
<ellipse cx="283.2" cy="620.0" rx="1.55" ry="2.0" fill="#1418cc"/>
<ellipse cx="283.6" cy="635.0" rx="1.55" ry="2.0" fill="#1418cc"/>
<ellipse cx="285.7" cy="647.0" rx="1.55" ry="2.0" fill="#1418cc"/>
<ellipse cx="287.2" cy="645.5" rx="1.55" ry="2.0" fill="#1418cc"/>
<ellipse cx="288.6" cy="644.0" rx="1.55" ry="2.0" fill="#1418cc"/>
<ellipse cx="293.5" cy="642.4" rx="1.55" ry="2.0" fill="#1418cc"/>
<ellipse cx="298.5" cy="643.8" rx="1.55" ry="2.0" fill="#1418cc"/>
<ellipse cx="297.6" cy="649.6" rx="1.55" ry="2.0" fill="#1418cc"/>
<ellipse cx="301.8" cy="653.7" rx="1.55" ry="2.0" fill="#1418cc"/>
<g stroke="#262626" stroke-width="1.1" fill="none">
<rect x="499.9" y="420.5" width="309.3" height="249.0"/>
<path d="M499.9 669.5h5.5M809.2 669.5h-5.5M499.9 644.6h2.8M809.2 644.6h-2.8M499.9 619.7h5.5M809.2 619.7h-5.5M499.9 594.8h2.8M809.2 594.8h-2.8M499.9 569.9h5.5M809.2 569.9h-5.5M499.9 545.0h2.8M809.2 545.0h-2.8M499.9 520.1h5.5M809.2 520.1h-5.5M499.9 495.2h2.8M809.2 495.2h-2.8M499.9 470.3h5.5M809.2 470.3h-5.5M499.9 445.4h2.8M809.2 445.4h-2.8M499.9 420.5h5.5M809.2 420.5h-5.5M510.2 669.5v-4.7M510.2 420.5v4.7M530.8 669.5v-2.5M530.8 420.5v2.5M551.5 669.5v-4.7M551.5 420.5v4.7M572.1 669.5v-2.5M572.1 420.5v2.5M592.7 669.5v-4.7M592.7 420.5v4.7M613.3 669.5v-2.5M613.3 420.5v2.5M633.9 669.5v-4.7M633.9 420.5v4.7M654.5 669.5v-2.5M654.5 420.5v2.5M675.2 669.5v-4.7M675.2 420.5v4.7M695.8 669.5v-2.5M695.8 420.5v2.5M716.4 669.5v-4.7M716.4 420.5v4.7M737.0 669.5v-2.5M737.0 420.5v2.5M757.7 669.5v-4.7M757.7 420.5v4.7M778.3 669.5v-2.5M778.3 420.5v2.5M798.9 669.5v-4.7M798.9 420.5v4.7"/>
</g>
<g font-size="16">
<text x="494.2" y="675.2" text-anchor="end">0.0</text>
<text x="494.2" y="625.4" text-anchor="end">0.2</text>
<text x="494.2" y="575.6" text-anchor="end">0.4</text>
<text x="494.2" y="525.8" text-anchor="end">0.6</text>
<text x="494.2" y="476.0" text-anchor="end">0.8</text>
<text x="494.2" y="426.2" text-anchor="end">1.0</text>
<text x="510.2" y="687.3" text-anchor="middle">1080</text>
<text x="551.5" y="687.3" text-anchor="middle">1200</text>
<text x="592.7" y="687.3" text-anchor="middle">1320</text>
<text x="633.9" y="687.3" text-anchor="middle">1440</text>
<text x="675.2" y="687.3" text-anchor="middle">1560</text>
<text x="716.4" y="687.3" text-anchor="middle">1680</text>
<text x="757.7" y="687.3" text-anchor="middle">1800</text>
<text x="798.9" y="687.3" text-anchor="middle">1920</text>
<text x="507.3" y="435.9" font-size="16.3">Simulation</text>
</g>
<text x="653.7" y="717.2" font-size="21.3" text-anchor="middle">Wavelength(nm)</text>
<text transform="translate(454.2,544.7) rotate(-90)" font-size="21" text-anchor="middle">Normalized Transmission</text>
<clipPath id="clipc"><rect x="499.5" y="420.5" width="310.3" height="249.0"/></clipPath>
<g clip-path="url(#clipc)" fill="none">
<path d="M499.8 614.0 C500.1 613.6 501.1 612.1 501.7 611.5 C502.3 610.9 502.9 610.4 503.6 610.2 C504.3 610.1 505.1 610.1 506.0 610.6 C506.9 611.1 507.8 612.4 509.0 613.3 C510.2 614.2 512.1 615.9 513.2 615.9 C514.3 615.9 515.0 614.8 515.8 613.5 C516.6 612.2 517.1 611.6 517.9 608.2 C518.7 604.8 519.8 598.4 520.8 592.9 C521.8 587.4 522.6 582.7 523.8 575.3 C525.0 567.9 526.6 558.3 528.0 548.7 C529.4 539.1 530.7 528.1 532.1 517.8 C533.5 507.5 535.0 496.2 536.2 486.9 C537.4 477.6 538.3 468.6 539.3 462.1 C540.3 455.6 541.0 451.2 542.0 447.7 C543.0 444.2 544.3 441.0 545.5 441.0 C546.7 441.0 547.8 444.2 549.0 447.7 C550.2 451.2 551.4 456.3 552.7 462.1 C554.0 467.9 555.5 475.8 556.9 482.7 C558.3 489.6 559.5 496.2 561.0 503.4 C562.5 510.6 564.4 519.1 566.1 526.0 C567.8 532.9 569.4 539.0 571.3 544.6 C573.2 550.2 575.4 555.2 577.5 559.6 C579.6 564.0 581.8 567.4 584.0 571.0 C586.2 574.6 588.2 577.9 590.6 581.2 C593.0 584.5 595.3 587.8 598.2 591.0 C601.1 594.2 604.6 597.9 607.8 600.6 C611.0 603.3 614.2 605.4 617.4 607.3 C620.6 609.2 624.5 610.3 627.0 612.0 C629.5 613.7 630.5 615.1 632.7 617.3 C634.9 619.5 637.6 622.7 640.1 625.2 C642.6 627.7 645.5 630.2 648.0 632.1 C650.5 634.0 652.1 635.0 655.0 636.9 C657.9 638.8 661.7 642.0 665.6 643.4 C669.5 644.8 673.8 645.4 678.5 645.5 C683.2 645.6 687.9 644.9 693.9 644.2 C699.9 643.6 708.5 641.7 714.5 641.6 C720.5 641.5 723.9 642.6 729.9 643.4 C735.9 644.2 744.5 645.9 750.5 646.3 C756.5 646.6 760.9 646.2 766.0 645.5 C771.1 644.8 776.3 643.4 781.4 641.9 C786.5 640.4 792.2 638.4 796.8 636.5 C801.4 634.6 807.1 631.6 809.2 630.6" stroke="#1f9a1f" stroke-width="4.9" stroke-linecap="round" stroke-linejoin="round"/>
<line x1="498.6" y1="646.9" x2="515.9" y2="627.5" stroke="#cc1414" stroke-width="4.8" stroke-linecap="round"/>
<line x1="534.3" y1="602.7" x2="549.4" y2="621.4" stroke="#cc1414" stroke-width="4.8" stroke-linecap="round"/>
<line x1="577.4" y1="627.3" x2="596.1" y2="615.0" stroke="#cc1414" stroke-width="4.8" stroke-linecap="round"/>
<line x1="614.7" y1="584.8" x2="620.5" y2="562.1" stroke="#cc1414" stroke-width="4.8" stroke-linecap="round"/>
<line x1="625.3" y1="528.9" x2="628.2" y2="505.2" stroke="#cc1414" stroke-width="4.8" stroke-linecap="round"/>
<line x1="631.4" y1="470.9" x2="634.7" y2="447.4" stroke="#cc1414" stroke-width="4.8" stroke-linecap="round"/>
<line x1="647.1" y1="435.8" x2="654.0" y2="458.5" stroke="#cc1414" stroke-width="4.8" stroke-linecap="round"/>
<line x1="662.7" y1="491.0" x2="669.1" y2="514.1" stroke="#cc1414" stroke-width="4.8" stroke-linecap="round"/>
<line x1="677.7" y1="546.1" x2="685.8" y2="568.9" stroke="#cc1414" stroke-width="4.8" stroke-linecap="round"/>
<line x1="699.9" y1="597.1" x2="713.6" y2="615.2" stroke="#cc1414" stroke-width="4.8" stroke-linecap="round"/>
<line x1="745.4" y1="615.4" x2="769.1" y2="610.2" stroke="#cc1414" stroke-width="4.8" stroke-linecap="round"/>
<line x1="801.9" y1="609.3" x2="811.8" y2="609.3" stroke="#cc1414" stroke-width="4.8" stroke-linecap="round"/>
<line x1="520.9" y1="612.3" x2="522.7" y2="609.9" stroke="#cc1414" stroke-width="4.8" stroke-linecap="round"/>
<line x1="562.0" y1="632.4" x2="565.0" y2="633.0" stroke="#cc1414" stroke-width="4.8" stroke-linecap="round"/>
<line x1="606.7" y1="602.1" x2="608.3" y2="599.5" stroke="#cc1414" stroke-width="4.8" stroke-linecap="round"/>
<line x1="623.2" y1="546.6" x2="623.6" y2="543.6" stroke="#cc1414" stroke-width="4.8" stroke-linecap="round"/>
<line x1="630.0" y1="489.6" x2="630.2" y2="486.6" stroke="#cc1414" stroke-width="4.8" stroke-linecap="round"/>
<line x1="637.4" y1="432.7" x2="639.2" y2="430.3" stroke="#cc1414" stroke-width="4.8" stroke-linecap="round"/>
<line x1="657.7" y1="472.9" x2="658.5" y2="475.9" stroke="#cc1414" stroke-width="4.8" stroke-linecap="round"/>
<line x1="672.6" y1="528.1" x2="673.4" y2="530.9" stroke="#cc1414" stroke-width="4.8" stroke-linecap="round"/>
<line x1="691.7" y1="581.7" x2="693.1" y2="584.3" stroke="#cc1414" stroke-width="4.8" stroke-linecap="round"/>
<line x1="728.5" y1="620.9" x2="731.5" y2="620.9" stroke="#cc1414" stroke-width="4.8" stroke-linecap="round"/>
<line x1="784.4" y1="609.3" x2="787.4" y2="609.3" stroke="#cc1414" stroke-width="4.8" stroke-linecap="round"/>
<line x1="499.0" y1="619.5" x2="502.1" y2="628.8" stroke="#1418cc" stroke-width="4.7" stroke-linecap="round"/>
<line x1="505.1" y1="642.2" x2="507.2" y2="647.9" stroke="#1418cc" stroke-width="4.7" stroke-linecap="round"/>
<line x1="512.7" y1="658.2" x2="520.3" y2="662.0" stroke="#1418cc" stroke-width="4.7" stroke-linecap="round"/>
<line x1="533.7" y1="664.1" x2="540.4" y2="664.5" stroke="#1418cc" stroke-width="4.7" stroke-linecap="round"/>
<line x1="553.8" y1="665.0" x2="561.4" y2="665.0" stroke="#1418cc" stroke-width="4.7" stroke-linecap="round"/>
<line x1="573.9" y1="665.0" x2="581.5" y2="664.6" stroke="#1418cc" stroke-width="4.7" stroke-linecap="round"/>
<line x1="594.9" y1="662.5" x2="601.6" y2="660.1" stroke="#1418cc" stroke-width="4.7" stroke-linecap="round"/>
<line x1="612.0" y1="652.8" x2="617.9" y2="647.8" stroke="#1418cc" stroke-width="4.7" stroke-linecap="round"/>
<line x1="624.3" y1="635.5" x2="626.7" y2="629.8" stroke="#1418cc" stroke-width="4.7" stroke-linecap="round"/>
<line x1="632.0" y1="617.3" x2="635.2" y2="611.6" stroke="#1418cc" stroke-width="4.7" stroke-linecap="round"/>
<line x1="646.5" y1="605.3" x2="654.5" y2="604.5" stroke="#1418cc" stroke-width="4.7" stroke-linecap="round"/>
<line x1="664.1" y1="600.3" x2="670.7" y2="595.3" stroke="#1418cc" stroke-width="4.7" stroke-linecap="round"/>
<line x1="678.8" y1="584.3" x2="682.8" y2="577.9" stroke="#1418cc" stroke-width="4.7" stroke-linecap="round"/>
<line x1="687.1" y1="567.6" x2="691.3" y2="559.4" stroke="#1418cc" stroke-width="4.7" stroke-linecap="round"/>
<line x1="694.5" y1="547.3" x2="697.8" y2="539.0" stroke="#1418cc" stroke-width="4.7" stroke-linecap="round"/>
<line x1="701.2" y1="526.5" x2="704.1" y2="519.3" stroke="#1418cc" stroke-width="4.7" stroke-linecap="round"/>
<line x1="706.8" y1="506.8" x2="709.3" y2="498.9" stroke="#1418cc" stroke-width="4.7" stroke-linecap="round"/>
<line x1="712.1" y1="486.6" x2="715.0" y2="477.9" stroke="#1418cc" stroke-width="4.7" stroke-linecap="round"/>
<line x1="719.5" y1="467.3" x2="724.1" y2="461.7" stroke="#1418cc" stroke-width="4.7" stroke-linecap="round"/>
<line x1="733.4" y1="468.2" x2="737.1" y2="475.3" stroke="#1418cc" stroke-width="4.7" stroke-linecap="round"/>
<line x1="741.2" y1="487.6" x2="744.3" y2="495.5" stroke="#1418cc" stroke-width="4.7" stroke-linecap="round"/>
<line x1="749.6" y1="507.8" x2="753.2" y2="514.8" stroke="#1418cc" stroke-width="4.7" stroke-linecap="round"/>
<line x1="757.6" y1="525.3" x2="761.8" y2="531.7" stroke="#1418cc" stroke-width="4.7" stroke-linecap="round"/>
<line x1="767.8" y1="542.6" x2="772.6" y2="548.3" stroke="#1418cc" stroke-width="4.7" stroke-linecap="round"/>
<line x1="782.7" y1="557.3" x2="789.1" y2="561.4" stroke="#1418cc" stroke-width="4.7" stroke-linecap="round"/>
<line x1="802.2" y1="564.5" x2="810.5" y2="565.5" stroke="#1418cc" stroke-width="4.7" stroke-linecap="round"/>
</g>
<line x1="749.3" y1="431.5" x2="776" y2="431.5" stroke="#1f9a1f" stroke-width="4.8" stroke-linecap="round"/>
<line x1="749.3" y1="450" x2="772.9" y2="450" stroke="#cc1414" stroke-width="4.5" stroke-linecap="round"/>
<path d="M749.2 467.7h7.6M770.2 467.7h6.8" stroke="#1418cc" stroke-width="4.4" stroke-linecap="round"/>
<g font-size="16"><text x="780.8" y="436.8">O1</text><text x="780.8" y="455.4">O2</text><text x="780.8" y="473.6">O3</text>
<text x="531.6" y="537">1180</text><text x="629.7" y="523">1460</text><text x="712" y="541.3">1700</text></g>
<line x1="546.4" y1="510.6" x2="546.4" y2="467.3" stroke="#000" stroke-width="1.6"/>
<polygon points="546.4,460.3 543.0,470.8 549.8,470.8" fill="#000"/>
<line x1="643.0" y1="498.0" x2="643.0" y2="453.5" stroke="#000" stroke-width="1.6"/>
<polygon points="643.0,446.5 639.6,457.0 646.4,457.0" fill="#000"/>
<line x1="727.1" y1="516.2" x2="727.1" y2="493.9" stroke="#000" stroke-width="1.6"/>
<polygon points="727.1,486.9 723.7,497.4 730.5,497.4" fill="#000"/>
</svg></body></html>
